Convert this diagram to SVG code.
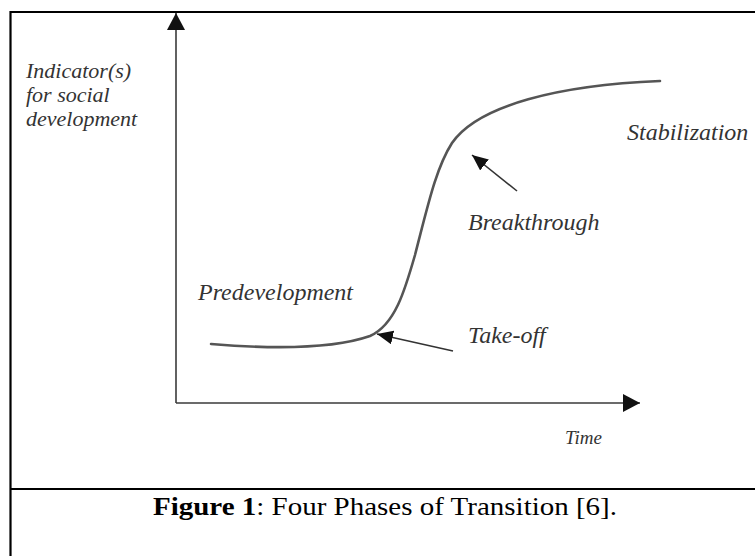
<svg xmlns="http://www.w3.org/2000/svg" width="755" height="556" viewBox="0 0 755 556">
<style>
.frame{fill:none;stroke:#000;stroke-width:2.2}
.axis{fill:none;stroke:#3a3a3a;stroke-width:1.6}
.curve{fill:none;stroke:#555;stroke-width:2.6;stroke-linecap:round}
.ptr{fill:none;stroke:#333;stroke-width:1.6}
.lbl{font-style:italic;fill:#333}
.cap{fill:#000;font-size:26px}
</style>
<defs>
<marker id="axhead" markerUnits="userSpaceOnUse" markerWidth="20" markerHeight="20" viewBox="0 0 20 20" refX="17" refY="9" orient="auto">
<path d="M0,0 L17,9 L0,18 Z" fill="#111"/>
</marker>
<marker id="ptrhead" markerUnits="userSpaceOnUse" markerWidth="18" markerHeight="16" viewBox="0 0 18 16" refX="16" refY="7" orient="auto">
<path d="M0,0 L16,7 L0,14 Z" fill="#111"/>
</marker>
</defs>
<g id="frame">
<path class="frame" d="M10.5,556 V12 H755"/>
<path class="frame" d="M10.5,489 H755"/>
</g>
<g id="connectors">
<line class="axis" x1="176" y1="403" x2="176" y2="13" marker-end="url(#axhead)"/>
<line class="axis" x1="176" y1="403" x2="640" y2="403" marker-end="url(#axhead)"/>
<path class="curve" d="M211,344 C260,348 330,350 370,336 C395,325 405,290 415,255 C428,205 436,168 452,143 C478,105 560,85 660,81"/>
<line class="ptr" x1="517" y1="191" x2="472" y2="155" marker-end="url(#ptrhead)"/>
<line class="ptr" x1="453" y1="351" x2="377" y2="334" marker-end="url(#ptrhead)"/>
</g>
<g font-family="Liberation Serif, serif">
<g id="ylabel">
<text class="lbl" font-size="22" x="26" y="78">Indicator(s)</text>
<text class="lbl" font-size="22" x="26" y="102">for social</text>
<text class="lbl" font-size="22" x="26" y="126">development</text>
</g>
<g id="predevelopment"><text class="lbl" font-size="24" x="198" y="300">Predevelopment</text></g>
<g id="takeoff"><text class="lbl" font-size="24" x="468" y="343">Take-off</text></g>
<g id="breakthrough"><text class="lbl" font-size="24" x="468" y="230">Breakthrough</text></g>
<g id="stabilization"><text class="lbl" font-size="24" x="627" y="140">Stabilization</text></g>
<g id="time"><text class="lbl" font-size="19" x="565" y="444">Time</text></g>
<g id="caption"><text class="cap" x="153" y="515" textLength="464" lengthAdjust="spacingAndGlyphs"><tspan font-weight="bold">Figure 1</tspan>: Four Phases of Transition [6].</text></g>
</g>
</svg>
